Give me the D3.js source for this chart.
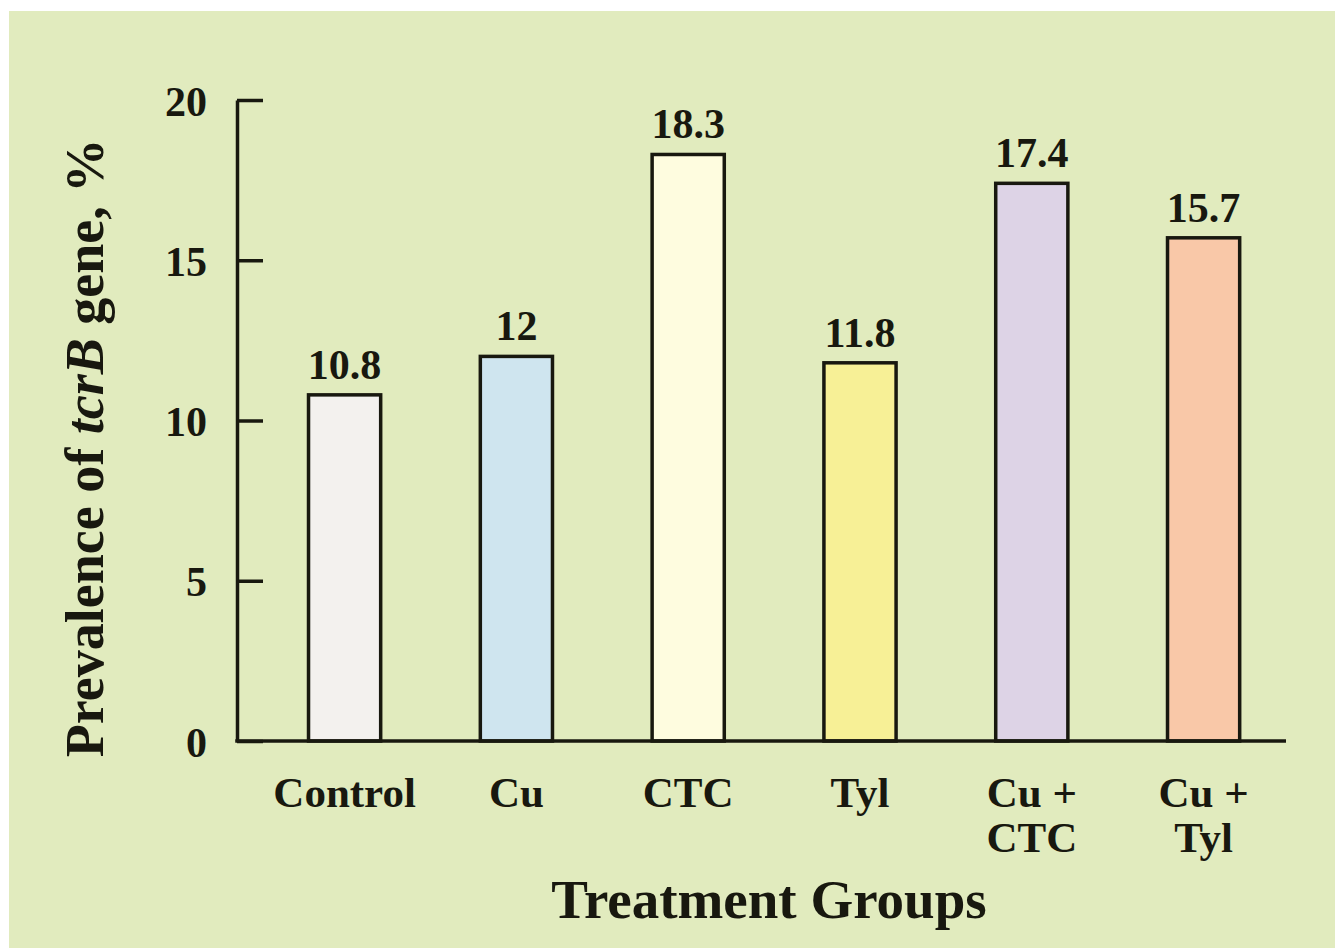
<!DOCTYPE html>
<html>
<head>
<meta charset="utf-8">
<script src="https://cdn.jsdelivr.net/npm/d3@7/dist/d3.min.js"></script>
<style>
  html, body { margin: 0; padding: 0; background: #ffffff; }
  svg { display: block; }
  text { font-family: "Liberation Serif", "Times New Roman", serif; font-weight: bold; fill: #18180f; }
</style>
</head>
<body>
<script>
const categories = [["Control"], ["Cu"], ["CTC"], ["Tyl"], ["Cu +", "CTC"], ["Cu +", "Tyl"]];
const values = [10.8, 12, 18.3, 11.8, 17.4, 15.7];
const valueLabels = ["10.8", "12", "18.3", "11.8", "17.4", "15.7"];
const barColors = ["#f3f1ee", "#cfe5ef", "#fefcdf", "#f7f096", "#ddd3e6", "#f9c8a8"];
const yTicks = [0, 5, 10, 15, 20];

const W = 1335, H = 948;
const svg = d3.select("body").append("svg").attr("width", W).attr("height", H);

svg.append("rect").attr("x", 9).attr("y", 11).attr("width", W - 9).attr("height", H - 11).attr("fill", "#e1ebbe");

const axisX = 237, xEnd = 1286;
const y = d3.scaleLinear().domain([0, 20]).range([741, 100]);
const keys = categories.map((c, i) => i);
const x = d3.scaleBand().domain(keys).range([258.7, 1289.5]).paddingInner(0.58).paddingOuter(0.29);

const ink = "#18180f";

// bars
svg.append("g").selectAll("rect").data(values).join("rect")
  .attr("x", (d, i) => x(i))
  .attr("y", d => y(d))
  .attr("width", x.bandwidth())
  .attr("height", d => y(0) - y(d))
  .attr("fill", (d, i) => barColors[i])
  .attr("stroke", ink)
  .attr("stroke-width", 3.5);

// value labels
svg.append("g").selectAll("text").data(values).join("text")
  .attr("x", (d, i) => x(i) + x.bandwidth() / 2)
  .attr("y", d => y(d) - 16)
  .attr("text-anchor", "middle")
  .attr("font-size", 42)
  .text((d, i) => valueLabels[i]);

// y axis
const yAxis = svg.append("g").attr("transform", `translate(${axisX},0)`)
  .call(d3.axisLeft(y).tickValues(yTicks).tickSizeInner(-26).tickSizeOuter(0).tickPadding(30).tickFormat(d3.format("d")));
yAxis.select(".domain").attr("stroke", ink).attr("stroke-width", 3.5);
yAxis.selectAll(".tick line").attr("stroke", ink).attr("stroke-width", 3.5);
yAxis.selectAll(".tick text").attr("font-size", 42).attr("font-family", null).attr("fill", ink).attr("dy", "0.36em");

// x axis
const xAxis = svg.append("g").attr("transform", `translate(0,${y(0)})`)
  .call(d3.axisBottom(x).tickSize(0).tickFormat(() => ""));
xAxis.select(".domain").remove();
xAxis.append("line").attr("x1", axisX - 1.75).attr("x2", xEnd).attr("y1", 0).attr("y2", 0)
  .attr("stroke", ink).attr("stroke-width", 3.5);
xAxis.selectAll(".tick text").each(function(d) {
  const t = d3.select(this).attr("y", 0).attr("dy", null).attr("font-size", 43).attr("font-family", null).attr("fill", ink);
  categories[d].forEach((line, k) => {
    t.append("tspan").attr("x", 0).attr("y", 66 + k * 45).text(line);
  });
});

// axis titles
svg.append("text").attr("x", 769).attr("y", 918).attr("text-anchor", "middle").attr("font-size", 55)
  .text("Treatment Groups");

const yt = svg.append("text").attr("transform", "translate(103,448) rotate(-90)").attr("text-anchor", "middle").attr("font-size", 54);
yt.append("tspan").text("Prevalence of ");
yt.append("tspan").attr("font-style", "italic").text("tcrB");
yt.append("tspan").text(" gene, %");
</script>
</body>
</html>
